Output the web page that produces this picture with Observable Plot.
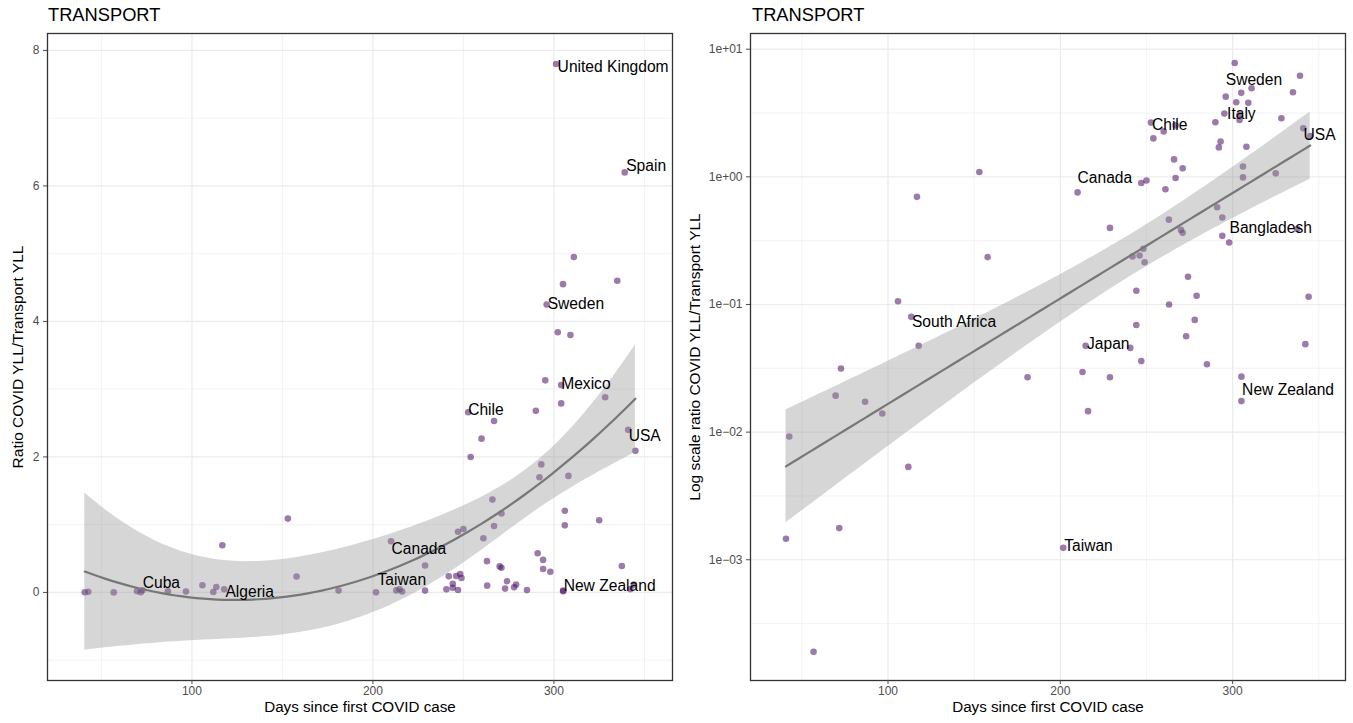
<!DOCTYPE html>
<html>
<head>
<meta charset="utf-8">
<script src="https://cdn.jsdelivr.net/npm/d3@7"></script>
<script src="https://cdn.jsdelivr.net/npm/@observablehq/plot@0.6"></script>
<style>
  html, body { margin: 0; padding: 0; background: #fff; }
  #wrap { position: relative; width: 1353px; height: 723px; font-family: "Liberation Sans", Arial, sans-serif; }
  .ptitle { position: absolute; top: 4px; font-size: 18.3px; color: #000; }
  .panel { position: absolute; top: 0; }
</style>
</head>
<body>
<div id="wrap">
  <div class="ptitle" style="left:48px">TRANSPORT</div>
  <div class="ptitle" style="left:752px">TRANSPORT</div>
  <div class="panel" id="left" style="left:0"></div>
  <div class="panel" id="right" style="left:676px"></div>
</div>
<script>
// ---- data ----
const days = [301.2, 339.1, 311, 305, 296, 302.1, 309.1, 335, 295.2, 304,
  304, 328.3, 290, 252.6, 266.9, 260, 254, 341, 345, 293,
  292, 308, 266, 271, 306, 306, 266.9, 325, 250, 247,
  210, 261, 291, 294, 294, 298, 337.5, 263, 228.8, 270,
  271, 248.2, 246, 241.9, 248.9, 274.1, 244.1, 279.1, 344.1, 263.1,
  244.1, 278, 273, 214.7, 240.6, 342.2, 247, 285.1, 181, 212.9,
  228.8, 305.1, 305.1, 216.1, 201.7, 72.7, 69.6, 86.7, 96.7, 42.7,
  111.8, 71.7, 40.8, 56.8, 153, 116.8, 157.8, 105.8, 113.5, 117.8];
const ratio = [7.8, 6.2, 4.95, 4.55, 4.25, 3.84, 3.80, 4.6, 3.13, 3.06,
  2.79, 2.88, 2.68, 2.66, 2.53, 2.27, 2.0, 2.4, 2.09, 1.89,
  1.70, 1.72, 1.37, 1.165, 1.205, 0.99, 0.98, 1.065, 0.937, 0.895,
  0.755, 0.80, 0.578, 0.48, 0.345, 0.306, 0.39, 0.462, 0.398, 0.384,
  0.364, 0.273, 0.242, 0.238, 0.214, 0.165, 0.128, 0.117, 0.115, 0.100,
  0.069, 0.0757, 0.0564, 0.0474, 0.0457, 0.0489, 0.0360, 0.034, 0.0269, 0.0296,
  0.0269, 0.0272, 0.0175, 0.0146, 0.00124, 0.0315, 0.0193, 0.0173, 0.0140, 0.00922,
  0.00534, 0.00177, 0.00146, 0.00019, 1.09, 0.697, 0.235, 0.106, 0.080, 0.0474];
const country = ["United Kingdom", "Spain", "", "", "Sweden", "", "", "", "Italy", "Mexico",
  "", "", "", "Chile", "", "", "", "USA", "", "",
  "", "", "", "", "", "", "", "", "", "",
  "Canada", "", "", "", "", "Bangladesh", "", "", "", "",
  "", "", "", "", "", "", "", "", "", "",
  "", "", "", "Japan", "", "", "", "", "", "",
  "", "", "New Zealand", "", "Taiwan", "", "", "", "", "",
  "", "Cuba", "", "", "", "", "", "", "South Africa", "Algeria"];

const labelsLinear = ["United Kingdom", "Spain", "Sweden", "Mexico", "Chile", "USA", "Canada", "Taiwan", "New Zealand", "Cuba", "Algeria"];
const labelsLog = ["Sweden", "Italy", "Chile", "USA", "Canada", "Bangladesh", "South Africa", "Japan", "New Zealand", "Taiwan"];

const xTicks = [100, 200, 300];
const xMinor = [50, 150, 250, 350];
const yTicksLinear = [0, 2, 4, 6, 8];
const yMinorLinear = [-1, 1, 3, 5, 7];
const yTicksLog = [1e-3, 1e-2, 1e-1, 1e0, 1e1];
const yMinorLog = [-3.5, -2.5, -1.5, -0.5, 0.5].map(e => Math.pow(10, e));

// label nudges (px) imitating the repelled labels
const nudgeLinear = {"United Kingdom": [1.5, 3.5], "Spain": [1.5, -6], "Sweden": [1, 0], "Mexico": [0, -1],
  "Chile": [0, -2], "USA": [0.5, 6], "Canada": [0.5, 8], "Taiwan": [1.5, -12], "New Zealand": [0.5, -5],
  "Cuba": [2, -9], "Algeria": [1.3, 3]};
const nudgeLog = {"Sweden": [0, -17], "Italy": [2.7, 0], "Chile": [1, 2], "USA": [0.3, 7], "Canada": [0, -14],
  "Bangladesh": [0.3, -14.7], "South Africa": [0.7, 5], "Japan": [1.4, -1.7], "New Zealand": [0.7, -10.6], "Taiwan": [1, -2]};

const rows = days.map((d, i) => ({days: d, ratio: ratio[i], country: country[i]}));

// ---- regression with 95% confidence band (like geom_smooth(method = lm)) ----
function tq975(df) {
  const z = 1.959964;
  return z + (z ** 3 + z) / (4 * df) + (5 * z ** 5 + 16 * z ** 3 + 3 * z) / (96 * df * df)
    + (3 * z ** 7 + 19 * z ** 5 + 17 * z ** 3 - 15 * z) / (384 * df ** 3);
}
function invert(M) {
  const n = M.length, A = M.map((r, i) => [...r, ...M.map((_, j) => (i === j ? 1 : 0))]);
  for (let c = 0; c < n; c++) {
    let p = c; for (let r = c + 1; r < n; r++) if (Math.abs(A[r][c]) > Math.abs(A[p][c])) p = r;
    [A[c], A[p]] = [A[p], A[c]];
    const v = A[c][c]; for (let k = 0; k < 2 * n; k++) A[c][k] /= v;
    for (let r = 0; r < n; r++) if (r !== c) { const f = A[r][c]; for (let k = 0; k < 2 * n; k++) A[r][k] -= f * A[c][k]; }
  }
  return A.map(r => r.slice(n));
}
function polySmooth(xs, ys, degree, nOut = 80) {
  const n = xs.length, p = degree + 1, mx = d3.mean(xs);
  const basis = x => { const u = (x - mx) / 100; return d3.range(p).map(k => u ** k); };
  const X = xs.map(basis);
  const XtX = d3.range(p).map(i => d3.range(p).map(j => d3.sum(X, r => r[i] * r[j])));
  const Xty = d3.range(p).map(i => d3.sum(X, (r, k) => r[i] * ys[k]));
  const inv = invert(XtX);
  const beta = inv.map(r => d3.sum(r, (v, j) => v * Xty[j]));
  const fitv = r => d3.sum(r, (v, j) => v * beta[j]);
  const rss = d3.sum(X, (r, k) => (ys[k] - fitv(r)) ** 2);
  const s2 = rss / (n - p), t = tq975(n - p);
  const [x0, x1] = d3.extent(xs);
  return d3.range(nOut).map(i => {
    const x = x0 + (x1 - x0) * i / (nOut - 1), b = basis(x);
    const yhat = fitv(b);
    const se = Math.sqrt(s2 * d3.sum(b, (bi, a) => bi * d3.sum(b, (bj, c) => inv[a][c] * bj)));
    return {x, y: yhat, lo: yhat - t * se, hi: yhat + t * se};
  });
}

const fitLin = polySmooth(days, ratio, 2);
const fitLog = polySmooth(days, ratio.map(Math.log10), 1)
  .map(d => ({x: d.x, y: 10 ** d.y, lo: 10 ** d.lo, hi: 10 ** d.hi}));

// ---- shared styling ----
const font = "Liberation Sans, Arial, sans-serif";
const dotFill = "#4a0f66";
const logFmt = v => { const e = Math.round(Math.log10(v)); return "1e" + (e < 0 ? "\u2212" : "+") + String(Math.abs(e)).padStart(2, "0"); };

function panel({width, marginLeft, marginRight, yScale, yTicks, yMinor, yFmt, fit, labels, nudge, yTitle, yTitleDx}) {
  const labelMarks = labels.map(name => {
    const r = rows.find(d => d.country === name);
    const [dx, dy] = nudge[name];
    return Plot.text([r], {x: "days", y: "ratio", text: "country", textAnchor: "start", dx, dy,
      fontSize: 15.6, fill: "#000", fontFamily: font});
  });
  return Plot.plot({
    width, height: 723, marginLeft, marginRight, marginTop: 33, marginBottom: 43,
    style: {fontFamily: font, background: "transparent", overflow: "visible"},
    x: {domain: [20.2, 365.5]},
    y: yScale,
    marks: [
      Plot.gridX(xMinor, {stroke: "#ebebeb", strokeOpacity: 1, strokeWidth: 0.6}),
      Plot.gridY(yMinor, {stroke: "#ebebeb", strokeOpacity: 1, strokeWidth: 0.6}),
      Plot.gridX(xTicks, {stroke: "#ebebeb", strokeOpacity: 1, strokeWidth: 1.2}),
      Plot.gridY(yTicks, {stroke: "#ebebeb", strokeOpacity: 1, strokeWidth: 1.2}),
      Plot.dot(rows, {x: "days", y: "ratio", r: 3.3, fill: dotFill, fillOpacity: 0.55, stroke: "none"}),
      Plot.areaY(fit, {x: "x", y1: "lo", y2: "hi", fill: "#999999", fillOpacity: 0.4}),
      Plot.line(fit, {x: "x", y: "y", stroke: "#777777", strokeWidth: 2.2}),
      ...labelMarks,
      Plot.frame({stroke: "#333333", strokeWidth: 1.3}),
      Plot.axisX(xTicks, {tickSize: 4, tickPadding: 2, fontSize: 12, color: "#4d4d4d", label: null}),
      Plot.axisY(yTicks, {tickSize: 4, tickPadding: 4, fontSize: 12, color: "#4d4d4d", label: null, tickFormat: yFmt}),
      Plot.text(["Days since first COVID case"], {frameAnchor: "bottom", dy: 31.5, fontSize: 15.2, fill: "#000", fontFamily: font}),
      Plot.text([yTitle], {frameAnchor: "left", dx: yTitleDx, rotate: -90, textAnchor: "middle", fontSize: 15.5, fill: "#000", fontFamily: font})
    ]
  });
}

document.getElementById("left").append(panel({
  width: 676, marginLeft: 47, marginRight: 4,
  yScale: {domain: [-1.30, 8.25]},
  yTicks: yTicksLinear, yMinor: yMinorLinear, yFmt: d => String(d),
  fit: fitLin, labels: labelsLinear, nudge: nudgeLinear,
  yTitle: "Ratio COVID YLL/Transport YLL", yTitleDx: -29
}));
document.getElementById("right").append(panel({
  width: 677, marginLeft: 74, marginRight: 8,
  yScale: {type: "log", domain: [Math.pow(10, -3.946), Math.pow(10, 1.123)]},
  yTicks: yTicksLog, yMinor: yMinorLog, yFmt: logFmt,
  fit: fitLog, labels: labelsLog, nudge: nudgeLog,
  yTitle: "Log scale ratio COVID YLL/Transport YLL", yTitleDx: -55
}));
</script>
</body>
</html>
